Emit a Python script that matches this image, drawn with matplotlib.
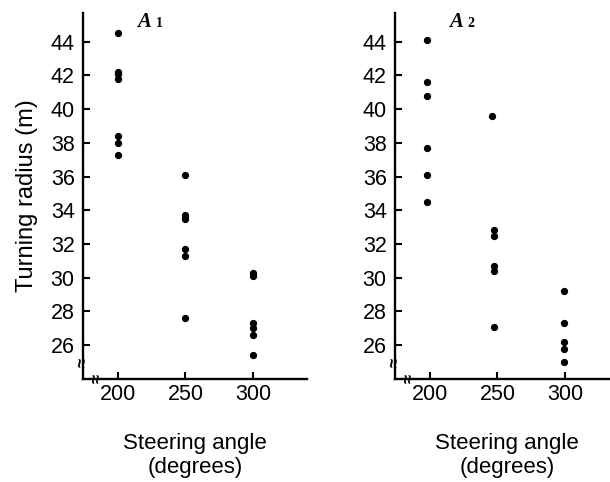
import matplotlib.pyplot as plt

plt.rcParams['font.family'] = ['Liberation Sans', 'DejaVu Sans']

# panel A1
a1_angle = [200, 200, 200, 200, 200, 200, 200,
            250, 250, 250, 250, 250, 250, 250,
            300, 300, 300, 300, 300, 300]
a1_radius = [44.5, 42.2, 42.1, 41.8, 38.4, 38.0, 37.3,
             36.1, 33.7, 33.5, 33.6, 31.7, 31.3, 27.6,
             30.3, 30.1, 27.3, 27.0, 26.6, 25.4]

# panel A2
a2_angle = [197.5, 197.5, 197.5, 197.5, 197.5, 197.5,
            246, 247.5, 247.5, 247.5, 247.5, 247.5,
            299, 299, 299, 299, 299]
a2_radius = [44.1, 41.6, 40.8, 37.7, 36.1, 34.5,
             39.6, 32.8, 32.5, 30.7, 30.4, 27.1,
             29.2, 27.3, 26.2, 25.8, 25.0]

xticks = [200, 250, 300]
yticks = [26, 28, 30, 32, 34, 36, 38, 40, 42, 44]

fig = plt.figure(figsize=(6.1, 4.82), dpi=100)
ax1 = fig.add_axes([0.136, 0.214, 0.367, 0.759])
ax2 = fig.add_axes([0.6475, 0.214, 0.367, 0.759])

panels = [(ax1, a1_angle, a1_radius, 'A', '1'), (ax2, a2_angle, a2_radius, 'A', '2')]
for ax, xs, ys, letter, sub in panels:
    ax.scatter(xs, ys, s=18, color='black', zorder=3)
    ax.set_xlim(174, 340)
    ax.set_ylim(24, 45.7)
    ax.set_xticks(xticks)
    ax.set_yticks(yticks)
    for side in ['top', 'right']:
        ax.spines[side].set_visible(False)
    for side in ['left', 'bottom']:
        ax.spines[side].set_linewidth(1.7)
    ax.tick_params(direction='in', length=5, width=1.5, labelsize=15.5, pad=4)
    ax.tick_params(axis='y', pad=6)
    ax.set_xlabel('Steering angle\n(degrees)', fontsize=16, labelpad=20, linespacing=1.15)
    # axis-break squiggles
    ax.text(0.0, 0.045, '\u2248', transform=ax.transAxes, fontsize=12, weight='bold',
            ha='center', va='center', rotation=90, clip_on=False)
    ax.text(0.065, 0.0, '\u2248', transform=ax.transAxes, fontsize=12, weight='bold',
            ha='center', va='center', rotation=90, clip_on=False)
    ax.text(0.24, 0.975, letter, transform=ax.transAxes, fontsize=15,
            family='Liberation Serif', style='italic', weight='bold', va='center')
    ax.text(0.325, 0.97, sub, transform=ax.transAxes, fontsize=10,
            family='Liberation Serif', weight='bold', va='center')

ax1.set_ylabel('Turning radius (m)', fontsize=17, labelpad=9)

fig.savefig('out.png', dpi=100)
